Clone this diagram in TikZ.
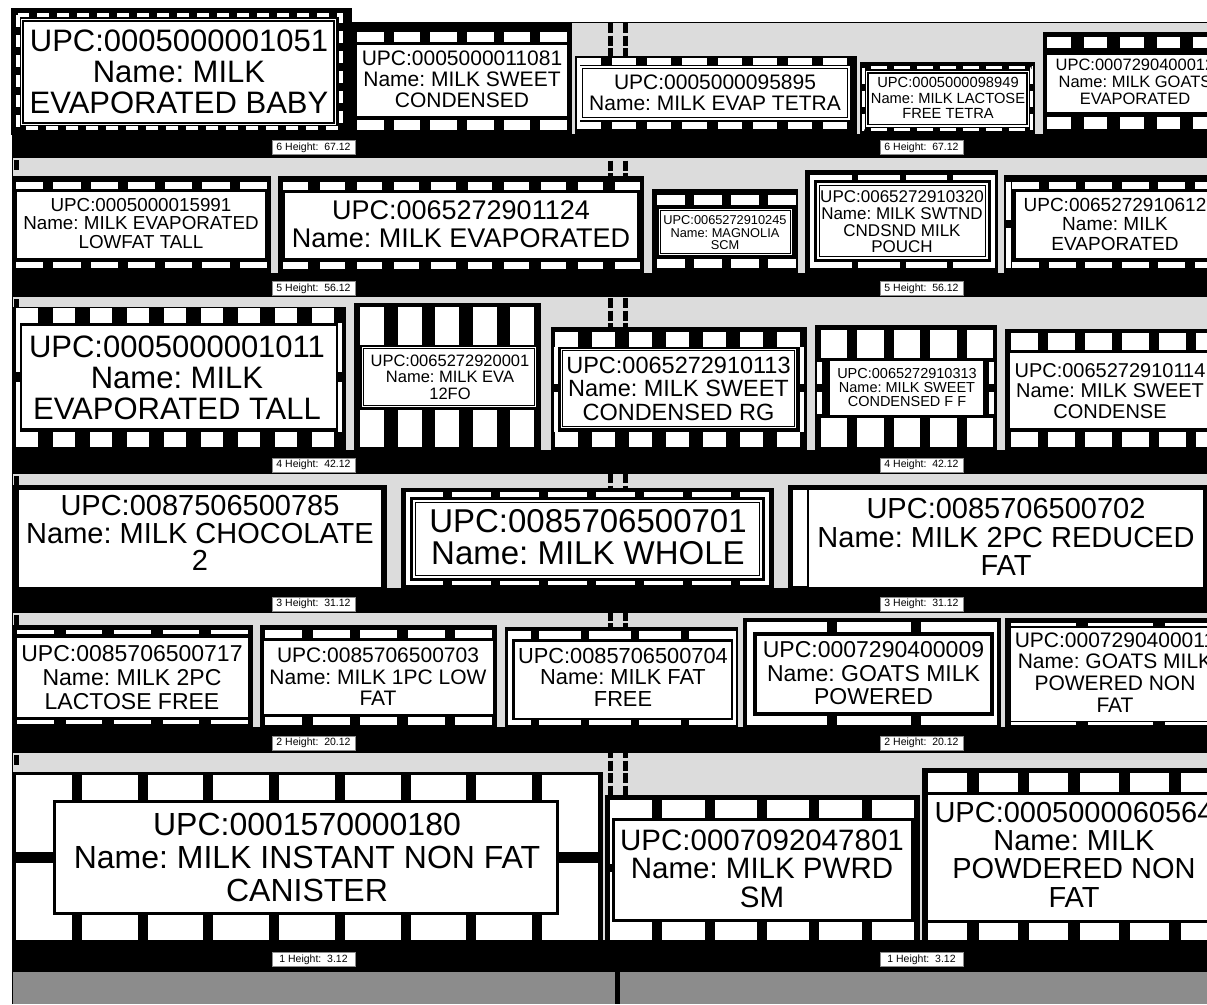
\documentclass[tikz,border=0pt]{standalone}
\usepackage{fontspec}
\setmainfont{Liberation Sans}
\frenchspacing
\definecolor{fixg}{HTML}{DCDCDC}
\definecolor{baseg}{HTML}{8C8C8C}
\newcommand\fsz[2]{\fontsize{#1}{#2}\selectfont}
\newcommand\frow[6]{%
  \pgfmathsetmacro\fw{(#2-#1-(#5-1)*#6)/#5}%
  \foreach \k in {1,...,#5}{%
    \pgfmathsetmacro\fx{#1+(\k-1)*(\fw+#6)}%
    \fill[white] (\fx,#3) rectangle ({\fx+\fw},#4);%
  }}
\tikzset{
  lbl/.style={align=center,inner sep=0pt,text=black,execute at begin node=\frenchspacing},
  shl/.style={fill=white,draw=black!45,line width=0.6pt,minimum width=83pt,minimum height=14pt,inner sep=0pt,font=\fsz{10.5}{10.5}},
  divbar/.style={line width=5pt,dash pattern=on 10pt off 2.5pt},
  wht/.style={fill=white},
  frame/.style={draw=black,line width=1.5pt}
}
\begin{document}
\begin{tikzpicture}[x=1pt,y=-1pt]
\useasboundingbox (0,0) rectangle (1207,1004);
\clip (0,0) rectangle (1207,1004);
\fill[white] (0,0) rectangle (1207,1004);
% fixture
\fill[fixg] (12,22) rectangle (1212,972);
\draw[line width=1.5pt] (12.5,1004) -- (12.5,22.5) -- (1212,22.5);
\draw[divbar] (610,23) -- (610,972);
\draw[divbar] (625,23) -- (625,972);
\foreach \t in {158,297,474,613,753} \fill (14,\t+2) rectangle (19,\t+12);
% shelves
\foreach \a/\b in {134/158,273/297,450/474,588/613,727/753,940/972} \fill (12,\a) rectangle (1212,\b);

% ===== Shelf 6 =====
% P6-1
\fill (11,8) rectangle (352,135);
\draw[white,line width=4pt,dash pattern=on 12pt off 8pt] (18,15) rectangle (341,127.5);
\fill[wht] (21,19) rectangle (336,125);
\draw[frame] (23,21) rectangle (334,123);
\node[lbl,font=\fsz{31}{31}] (p61) at (179,72) {UPC:0005000001051\\Name: MILK\\EVAPORATED BABY};
% P6-2
\fill (352,23) rectangle (572,135);
\frow{357}{567}{32}{42}{6}{10}
\frow{357}{567}{120}{130}{6}{10}
\fill[wht] (357,45) rectangle (567,116);
\node[lbl,font=\fsz{21}{21}] (p62) at (462,79) {UPC:0005000011081\\Name: MILK SWEET\\CONDENSED};
% P6-3
\fill (575,56) rectangle (857,135);
\frow{577}{847}{58}{65}{8}{11}
\frow{577}{847}{122}{129}{8}{11}
\fill[wht] (577,58) rectangle (580,129);
\fill[wht] (580,66) rectangle (850,120);
\draw[frame] (582.5,68.5) rectangle (847.5,117.5);
\node[lbl,font=\fsz{21}{21.5}] (p63) at (715,93) {UPC:0005000095895\\Name: MILK EVAP TETRA};
% P6-4
\fill (860,62) rectangle (1035,135);
\draw[white,line width=3pt,dash pattern=on 16pt off 7pt] (863.5,67.5) rectangle (1031.5,129.5);
\fill[wht] (866,71) rectangle (1029,126.5);
\draw[frame] (868,73) rectangle (1027,124.5);
\node[lbl,font=\fsz{14.7}{15.5}] (p64) at (948,98) {UPC:0005000098949\\Name: MILK LACTOSE\\FREE TETRA};
% P6-5
\fill (1043,32) rectangle (1212,135);
\frow{1047}{1217}{37}{48}{5}{13}
\frow{1047}{1217}{117}{129}{5}{13}
\fill[wht] (1047,55) rectangle (1215,112);
\node[lbl,font=\fsz{16.5}{17}] (p65) at (1135,82) {UPC:0007290400012\\Name: MILK GOATS\\EVAPORATED};

% ===== Shelf 5 =====
% P5-1
\fill (13,176) rectangle (271,274);
\frow{16}{267}{182}{189}{7}{10}
\frow{16}{267}{262}{268}{7}{10}
\fill[wht] (17,192) rectangle (265,258);
\node[lbl,font=\fsz{18.8}{18.5}] (p51) at (141,223.5) {UPC:0005000015991\\Name: MILK EVAPORATED\\LOWFAT TALL};
% P5-2
\fill (278,176) rectangle (644,274);
\frow{283}{640}{182}{190}{10}{12}
\frow{283}{640}{262}{269}{10}{12}
\fill[wht] (285,193) rectangle (637,258);
\node[lbl,font=\fsz{27}{28}] (p52) at (461,224) {UPC:0065272901124\\Name: MILK EVAPORATED};
% P5-3
\fill (652,189) rectangle (798,274);
\frow{657}{796}{195}{205}{4}{9}
\frow{657}{796}{259}{268}{4}{9}
\fill[wht] (659,209) rectangle (792,255);
\draw[line width=1pt] (660.5,210.5) rectangle (790.5,253.5);
\node[lbl,font=\fsz{12.8}{12.5}] (p53) at (725,233) {UPC:0065272910245\\Name: MAGNOLIA\\SCM};
% P5-4
\fill (805,170) rectangle (998,274);
\fill[wht] (810,175) rectangle (995,268);
\fill (814,180) rectangle (991,262);
\foreach \s in {852,900,947} {\fill (\s,175) rectangle (\s+6,180); \fill (\s,262) rectangle (\s+6,268);}
\fill[wht] (817,183) rectangle (988,259);
\draw[line width=1.2pt] (819.5,185.5) rectangle (985.5,256.5);
\node[lbl,font=\fsz{17}{16.7}] (p54) at (902,222) {UPC:0065272910320\\Name: MILK SWTND\\CNDSND MILK\\POUCH};
% P5-5
\fill (1004,175) rectangle (1212,274);
\frow{1012}{1222}{182}{189}{6}{9.6}
\frow{1012}{1222}{262}{268}{6}{9.6}
\fill[wht] (1006,182) rectangle (1011,268);
\fill (1004,220) rectangle (1012,228);
\fill[wht] (1016,192) rectangle (1215,258);
\node[lbl,font=\fsz{19}{19.5}] (p55) at (1115,224) {UPC:0065272910612\\Name: MILK\\EVAPORATED};

% ===== Shelf 4 =====
% P4-1
\fill (12,307) rectangle (346,451);
\frow{16}{334}{308}{323}{9}{15}
\frow{16}{334}{432}{447}{9}{15}
\fill[wht] (16,323) rectangle (20,432);
\fill[wht] (338,323) rectangle (342,432);
\fill (14,372) rectangle (344,382);
\fill[wht] (22,326) rectangle (336,428);
\node[lbl,font=\fsz{31}{31}] (p41) at (177,377.5) {UPC:0005000001011\\Name: MILK\\EVAPORATED TALL};
% P4-2
\fill (354,303) rectangle (541,451);
\frow{360}{534}{307}{345}{5}{13.5}
\frow{360}{534}{410}{447}{5}{13.5}
\fill[wht] (362,347) rectangle (536,407);
\draw[line width=1.2pt] (363.5,348.5) rectangle (534.5,405.5);
\node[lbl,font=\fsz{16.5}{16.5}] (p42) at (450,377) {UPC:0065272920001\\Name: MILK EVA\\12FO};
% P4-3
\fill (551,327) rectangle (807,451);
\frow{555}{800}{332}{347}{7}{14}
\frow{555}{800}{432}{447}{7}{14}
\fill[wht] (554,347) rectangle (558,432);
\fill[wht] (800,347) rectangle (804,432);
\fill (552,384) rectangle (806,392);
\fill[wht] (561,349) rectangle (796,428);
\draw[line width=1.2pt] (562.5,350.5) rectangle (794.5,426.5);
\node[lbl,font=\fsz{23.5}{23.5}] (p43) at (678.5,388.5) {UPC:0065272910113\\Name: MILK SWEET\\CONDENSED RG};
% P4-4
\fill (815,325) rectangle (997,451);
\frow{821}{993}{330}{358}{5}{10}
\frow{821}{993}{418}{447}{5}{10}
\fill[wht] (817,362) rectangle (822,414);
\fill[wht] (989,362) rectangle (994,414);
\fill (816,384) rectangle (996,392);
\fill[wht] (830,361) rectangle (983,415);
\node[lbl,font=\fsz{14.5}{14}] (p44) at (907,387.5) {UPC:0065272910313\\Name: MILK SWEET\\CONDENSED F F};
% P4-5
\fill (1005,329) rectangle (1212,451);
\frow{1011}{1223}{333}{350}{6}{10}
\frow{1011}{1223}{432}{447}{6}{10}
\fill[wht] (1010,353) rectangle (1215,428);
\node[lbl,font=\fsz{20}{20.5}] (p45) at (1110,391) {UPC:0065272910114\\Name: MILK SWEET\\CONDENSE};

% ===== Shelf 3 =====
% P3-1
\fill (12,485) rectangle (387,589);
\fill[wht] (19,490) rectangle (381,586.5);
\node[lbl,font=\fsz{29}{27.5}] (p31) at (200,533) {UPC:0087506500785\\Name: MILK CHOCOLATE\\2};
% P3-2
\fill (401,488) rectangle (774,589);
\fill[wht] (406,492) rectangle (769,585);
\fill (410,497) rectangle (765,581);
\foreach \s in {443,491,539,587,635,683,731} {\fill (\s,492) rectangle (\s+9,497); \fill (\s,581) rectangle (\s+9,585);}
\fill[wht] (413,500) rectangle (762,578);
\draw[line width=1.2pt] (415.5,502.5) rectangle (759.5,575.5);
\node[lbl,font=\fsz{33}{32}] (p32) at (588,537) {UPC:0085706500701\\Name: MILK WHOLE};
% P3-3
\fill (788,485) rectangle (1212,589);
\fill[wht] (793,490) rectangle (807,586);
\fill[wht] (809,490) rectangle (1203,587);
\node[lbl,font=\fsz{29}{28.5}] (p33) at (1006,537) {UPC:0085706500702\\Name: MILK 2PC REDUCED\\FAT};

% ===== Shelf 2 =====
% P2-1
\fill (12,625) rectangle (253,728);
\frow{17}{248}{630}{634}{5}{12}
\frow{17}{248}{720}{724}{5}{12}
\fill[wht] (17,638) rectangle (248,717);
\node[lbl,font=\fsz{23}{24}] (p21) at (132,677.5) {UPC:0085706500717\\Name: MILK 2PC\\LACTOSE FREE};
% P2-2
\fill (260,625) rectangle (497,728);
\frow{265}{492}{630}{638}{5}{10.5}
\frow{265}{492}{717}{725}{5}{10.5}
\fill[wht] (264,641) rectangle (493,714);
\node[lbl,font=\fsz{21}{21.5}] (p22) at (378,677) {UPC:0085706500703\\Name: MILK 1PC LOW\\FAT};
% P2-3
\fill (505,627) rectangle (738,728);
\fill[wht] (508,631) rectangle (736,725);
\fill (512,639) rectangle (733,720);
\foreach \s in {531,581,631,681} {\fill (\s,631) rectangle (\s+8,639); \fill (\s,720) rectangle (\s+8,725);}
\fill[wht] (515,642) rectangle (731,718);
\node[lbl,font=\fsz{21.8}{21.5}] (p23) at (623,677) {UPC:0085706500704\\Name: MILK FAT\\FREE};
% P2-4
\fill (743,618) rectangle (1001,728);
\fill[wht] (747,622) rectangle (997,725);
\foreach \s in {827,911} {\fill (\s,622) rectangle (\s+10,633); \fill (\s,715) rectangle (\s+10,725);}
\fill (753,632) rectangle (994,716);
\fill[wht] (757,636) rectangle (990,712);
\node[lbl,font=\fsz{23}{23.5}] (p24) at (873.5,673.5) {UPC:0007290400009\\Name: GOATS MILK\\POWERED};
% P2-5
\fill (1005,618) rectangle (1212,728);
\frow{1011}{1230}{622.5}{625.5}{3}{12}
\frow{1011}{1230}{722}{725}{3}{12}
\fill[wht] (1011,627.5) rectangle (1215,720.5);
\node[lbl,font=\fsz{21}{21.7}] (p25) at (1115,672.5) {UPC:0007290400011\\Name: GOATS MILK\\POWERED NON\\FAT};

% ===== Shelf 1 =====
% P1-1
\fill (13,772) rectangle (603,941);
\frow{16}{598}{775}{940}{9}{10}
\fill (13,852) rectangle (603,863);
\fill (53,800) rectangle (559,915);
\fill[wht] (56,803) rectangle (556,912);
\node[lbl,font=\fsz{32}{33}] (p11) at (307,857) {UPC:0001570000180\\Name: MILK INSTANT NON FAT\\CANISTER};
% P1-2
\fill (605,795) rectangle (920,941);
\frow{610}{914}{800}{940}{6}{10}
\fill (605,864) rectangle (920,872);
\fill (612,818) rectangle (914,922);
\fill[wht] (615,821) rectangle (911,919);
\node[lbl,font=\fsz{29.5}{28.5}] (p12) at (762,868.5) {UPC:0007092047801\\Name: MILK PWRD\\SM};
% P1-3
\fill (922,768) rectangle (1212,941);
\frow{928}{1220}{773}{792}{6}{11.5}
\frow{928}{1220}{923}{940}{6}{11.5}
\fill[wht] (928,795) rectangle (1215,920);
\node[lbl,font=\fsz{29}{28.3}] (p13) at (1074,854.5) {UPC:0005000060564\\Name: MILK\\POWDERED NON\\FAT};

% shelf labels
\node[shl] (s6l) at (313.5,147.5) {6 Height:\ \ 67.12};
\node[shl] (s6r) at (921.5,147.5) {6 Height:\ \ 67.12};
\node[shl] (s5l) at (313.5,288.5) {5 Height:\ \ 56.12};
\node[shl] (s5r) at (921.5,288.5) {5 Height:\ \ 56.12};
\node[shl] (s4l) at (313.5,465) {4 Height:\ \ 42.12};
\node[shl] (s4r) at (921.5,465) {4 Height:\ \ 42.12};
\node[shl] (s3l) at (313.5,604) {3 Height:\ \ 31.12};
\node[shl] (s3r) at (921.5,604) {3 Height:\ \ 31.12};
\node[shl] (s2l) at (313.5,743) {2 Height:\ \ 20.12};
\node[shl] (s2r) at (921.5,743) {2 Height:\ \ 20.12};
\node[shl] (s1l) at (313.5,959.5) {1 Height:\ \ 3.12};
\node[shl] (s1r) at (921.5,959.5) {1 Height:\ \ 3.12};

% base
\fill[baseg] (13.25,972) rectangle (1212,1004);
\fill (615,972) rectangle (620,1004);
\end{tikzpicture}
\end{document}
